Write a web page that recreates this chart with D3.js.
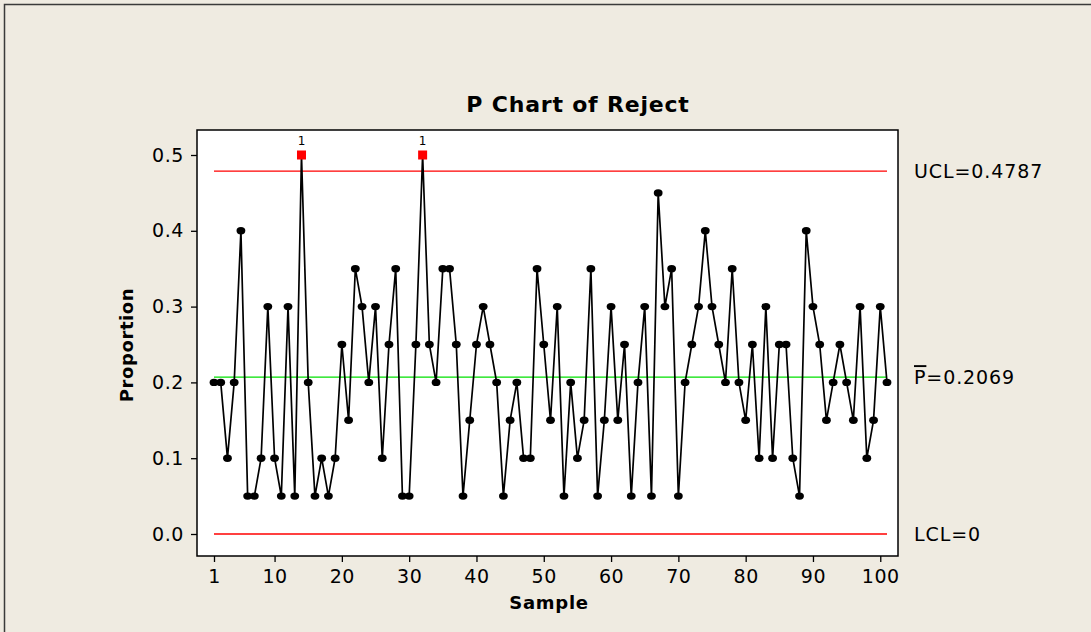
<!DOCTYPE html>
<html>
<head>
<meta charset="utf-8">
<script src="https://cdn.jsdelivr.net/npm/d3@7"></script>
<style>
  html, body { margin: 0; padding: 0; background: #efebe1; }
  svg { display: block; }
  text { font-family: "DejaVu Sans", Verdana, sans-serif; fill: #000; }
</style>
</head>
<body>
<div id="chart"></div>
<script>
// proportion rejected in each of 101 samples (n = 20)
const samples = d3.range(1, 102);
const proportion = [
    0.20, 0.20, 0.10, 0.20, 0.40, 0.05, 0.05, 0.10, 0.30, 0.10,
    0.05, 0.30, 0.05, 0.50, 0.20, 0.05, 0.10, 0.05, 0.10, 0.25,
    0.15, 0.35, 0.30, 0.20, 0.30, 0.10, 0.25, 0.35, 0.05, 0.05,
    0.25, 0.50, 0.25, 0.20, 0.35, 0.35, 0.25, 0.05, 0.15, 0.25,
    0.30, 0.25, 0.20, 0.05, 0.15, 0.20, 0.10, 0.10, 0.35, 0.25,
    0.15, 0.30, 0.05, 0.20, 0.10, 0.15, 0.35, 0.05, 0.15, 0.30,
    0.15, 0.25, 0.05, 0.20, 0.30, 0.05, 0.45, 0.30, 0.35, 0.05,
    0.20, 0.25, 0.30, 0.40, 0.30, 0.25, 0.20, 0.35, 0.20, 0.15,
    0.25, 0.10, 0.30, 0.10, 0.25, 0.25, 0.10, 0.05, 0.40, 0.30,
    0.25, 0.15, 0.20, 0.25, 0.20, 0.15, 0.30, 0.10, 0.15, 0.30,
    0.20
];
const xTicks = [1, 10, 20, 30, 40, 50, 60, 70, 80, 90, 100];
const yTicks = [0.0, 0.1, 0.2, 0.3, 0.4, 0.5];
const limits = [
    { name: "UCL", value: 0.4787, label: "UCL=0.4787", color: "#ff0000" },
    { name: "P",   value: 0.2069, label: "P=0.2069",   color: "#00e000" },
    { name: "LCL", value: 0,      label: "LCL=0",      color: "#ff0000" }
];

const width = 1091, height = 632;
const frame = { left: 197, top: 130, right: 898, bottom: 556 };

const svg = d3.select("#chart")
    .append("svg")
    .attr("width", width)
    .attr("height", height);

// outer border of the graph window
svg.append("rect")
    .attr("x", 4.5).attr("y", 4.5)
    .attr("width", width + 20).attr("height", height + 20)
    .style("fill", "#efebe1")
    .style("stroke", "#3a3a3a")
    .style("stroke-width", 1.5);

// plot area
svg.append("rect")
    .attr("x", frame.left).attr("y", frame.top)
    .attr("width", frame.right - frame.left)
    .attr("height", frame.bottom - frame.top)
    .style("fill", "#ffffff")
    .style("stroke", "#000")
    .style("stroke-width", 1.5);

const x = d3.scaleLinear().domain([1, 101]).range([214, 887]);
const y = d3.scaleLinear().domain([0, 0.5]).range([534, 155]);

let xAxis = d3.axisBottom(x)
    .tickValues(xTicks)
    .tickSize(6)
    .tickPadding(8)
    .tickFormat(d3.format("d"));

let yAxis = d3.axisLeft(y)
    .tickValues(yTicks)
    .tickSize(6)
    .tickPadding(7)
    .tickFormat(d3.format(".1f"));

let gx = svg.append("g")
    .attr("class", "x-axis")
    .attr("transform", `translate(0, ${frame.bottom})`)
    .call(xAxis);

let gy = svg.append("g")
    .attr("class", "y-axis")
    .attr("transform", `translate(${frame.left}, 0)`)
    .call(yAxis);

[gx, gy].forEach(function(g) {
    g.select(".domain").remove();
    g.selectAll(".tick line").style("stroke", "#000").style("stroke-width", 1.3);
    g.selectAll(".tick text")
        .style("font-family", "'DejaVu Sans', Verdana, sans-serif")
        .style("font-size", "19px")
        .style("letter-spacing", "0.6px")
        .style("fill", "#000");
});

// control limits
limits.forEach(function(l) {
    svg.append("line")
        .attr("x1", x(1)).attr("x2", x(101))
        .attr("y1", y(l.value)).attr("y2", y(l.value))
        .style("stroke", l.color)
        .style("stroke-width", 1.3);
});

let labels = svg.append("g").attr("class", "limit-labels");
limits.forEach(function(l) {
    let t = labels.append("text")
        .attr("x", 914)
        .attr("y", y(l.value) + 7)
        .style("font-size", "19px")
        .style("letter-spacing", "0.9px");
    if (l.name == "P") {
        t.append("tspan").style("text-decoration", "overline").text("P");
        t.append("tspan").text(l.label.slice(1));
    } else {
        t.text(l.label);
    }
});

// the data line
let lineGenerator = d3.line()
    .x(function(d, i) { return x(samples[i]); })
    .y(function(d) { return y(d); });

svg.append("path")
    .attr("d", lineGenerator(proportion))
    .style("fill", "none")
    .style("stroke", "#000")
    .style("stroke-width", 1.7);

let points = proportion.map(function(d, i) {
    return { sample: samples[i], value: d, out: d > limits[0].value };
});

svg.append("g")
    .selectAll("ellipse")
    .data(points.filter(function(d) { return !d.out; }))
    .join("ellipse")
    .attr("cx", function(d) { return x(d.sample); })
    .attr("cy", function(d) { return y(d.value); })
    .attr("rx", 4.4)
    .attr("ry", 3.7)
    .style("fill", "#000");

let outPoints = points.filter(function(d) { return d.out; });

svg.append("g")
    .selectAll("rect")
    .data(outPoints)
    .join("rect")
    .attr("x", function(d) { return x(d.sample) - 4.5; })
    .attr("y", function(d) { return y(d.value) - 4.5; })
    .attr("width", 9)
    .attr("height", 9)
    .style("fill", "#ff0000");

svg.append("g")
    .selectAll("text")
    .data(outPoints)
    .join("text")
    .attr("x", function(d) { return x(d.sample); })
    .attr("y", function(d) { return y(d.value) - 10; })
    .attr("text-anchor", "middle")
    .style("font-size", "12px")
    .text("1");

// titles
svg.append("text")
    .attr("x", 578).attr("y", 112)
    .attr("text-anchor", "middle")
    .style("font-size", "22px")
    .style("font-weight", "bold")
    .style("letter-spacing", "0.8px")
    .text("P Chart of Reject");

svg.append("text")
    .attr("x", 549).attr("y", 609)
    .attr("text-anchor", "middle")
    .style("font-size", "18px")
    .style("font-weight", "bold")
    .style("letter-spacing", "0.7px")
    .text("Sample");

svg.append("text")
    .attr("transform", "translate(133, 345) rotate(-90)")
    .attr("text-anchor", "middle")
    .style("font-size", "18px")
    .style("font-weight", "bold")
    .style("letter-spacing", "0.6px")
    .text("Proportion");
</script>
</body>
</html>
